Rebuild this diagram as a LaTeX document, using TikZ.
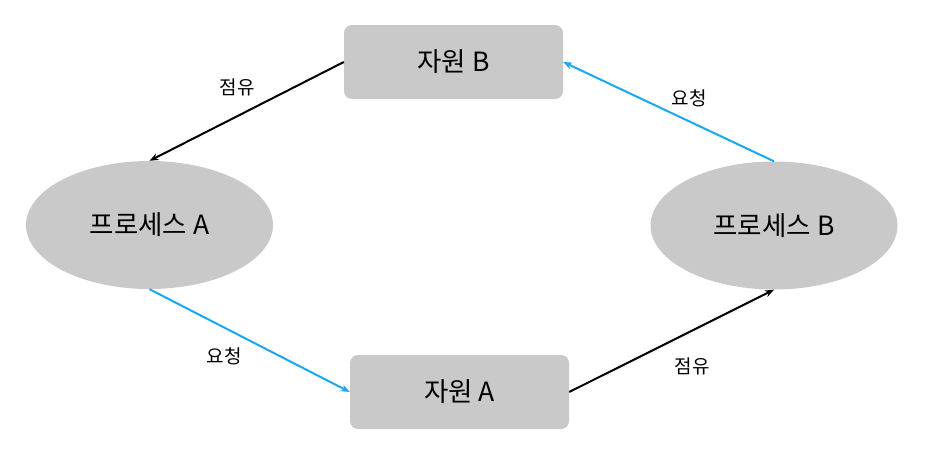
\documentclass[tikz,border=0pt]{standalone}
\usepackage{fontspec}
\setmainfont{Noto Sans CJK KR}
\usetikzlibrary{shapes.geometric,arrows.meta}
\definecolor{boxgray}{HTML}{C9C9C9}
\definecolor{reqblue}{HTML}{1AA8F0}
\tikzset{
  resbox/.style={draw=none,fill=boxgray,rounded corners=8pt,minimum width=219pt,minimum height=74pt,font=\fontsize{26.5}{31}\selectfont},
  procell/.style={draw=none,fill=boxgray,ellipse,minimum width=247pt,minimum height=128pt,font=\fontsize{26.5}{31}\selectfont},
  holdarrow/.style={black,line width=2pt,-{Stealth[length=9pt,width=7pt]}},
  reqarrow/.style={reqblue,line width=2pt,-{Stealth[length=9pt,width=7pt]}},
  lbl/.style={font=\fontsize{19}{23}\selectfont}
}
\begin{document}
\begin{tikzpicture}[x=1pt,y=-1pt]
\useasboundingbox (0,0) rectangle (939,456);
\node[resbox] (rb) at (453.5,62) {자원 B};
\node[resbox] (ra) at (459.5,392) {자원 A};
\node[procell] (pa) at (149.5,225) {프로세스 A};
\node[procell] (pb) at (774,225.5) {프로세스 B};
\draw[holdarrow] (rb.west) -- (pa.north);
\draw[reqarrow] (pa.south) -- (ra.west);
\draw[holdarrow] (ra.east) -- (pb.south);
\draw[reqarrow] (pb.north) -- (rb.east);
\node[lbl] (l1) at (237,87) {점유};
\node[lbl] (l2) at (224,356) {요청};
\node[lbl] (l3) at (692,366) {점유};
\node[lbl] (l4) at (689,98) {요청};
\end{tikzpicture}
\end{document}
